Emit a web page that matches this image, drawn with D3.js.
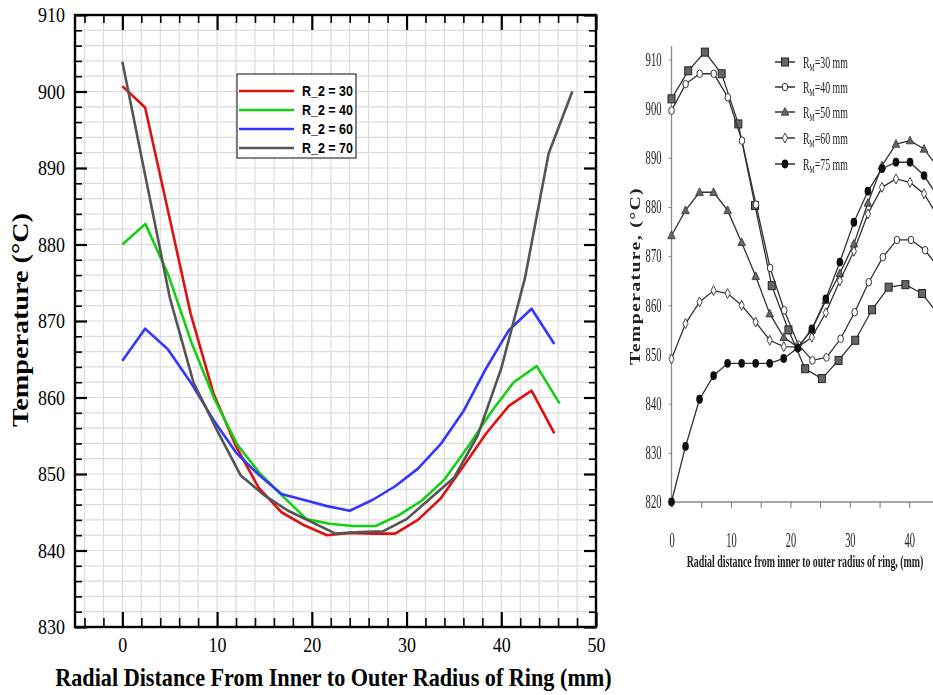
<!DOCTYPE html>
<html><head><meta charset="utf-8">
<script src="https://cdn.jsdelivr.net/npm/d3@7"></script>
<style>html,body{margin:0;padding:0;background:#fff}svg{display:block}</style>
</head><body>
<svg id="chart" width="933" height="695"></svg>
<script>
// ---------- Left panel: temperature across the ring for four R_2 values ----------
const leftNames  = ["R_2 = 30", "R_2 = 40", "R_2 = 60", "R_2 = 70"];
const leftColors = ["#e01010", "#12d012", "#3535ff", "#555555"];

const r30x = [0, 2.4, 4.8, 7.2, 9.6, 12, 14.4, 16.8, 19.2, 21.6, 24, 26.4, 28.8, 31.2, 33.6, 36, 38.4, 40.8, 43.2, 45.6];
const r30t = [900.7, 897.9, 884.5, 871, 860.6, 853.6, 848.2, 845, 843.3, 842, 842.3, 842.2, 842.2, 844, 846.8, 851, 855.3, 858.9, 860.9, 855.3];

const r40x = [0, 2.43, 4.86, 7.29, 9.72, 12.15, 14.58, 17.01, 19.44, 21.87, 24.3, 26.73, 29.16, 31.59, 34.02, 36.45, 38.88, 41.31, 43.74, 46.17];
const r40t = [880, 882.7, 876, 867.2, 859.8, 853.8, 850, 847, 844.1, 843.5, 843.2, 843.2, 844.6, 846.5, 849.3, 853.5, 858, 862, 864.1, 859.2];

const r60x = [0, 2.4, 4.8, 7.2, 9.6, 12, 14.4, 16.8, 19.2, 21.6, 24, 26.4, 28.8, 31.2, 33.6, 36, 38.4, 40.8, 43.2, 45.6];
const r60t = [864.8, 869, 866.3, 862, 857.1, 852.8, 849.9, 847.4, 846.6, 845.8, 845.2, 846.6, 848.4, 850.7, 853.9, 858.2, 863.8, 868.8, 871.6, 867];

const r70x = [0, 2.5, 5, 7.5, 10, 12.5, 15, 17.5, 20, 22.5, 25, 27.5, 30, 32.5, 35, 37.5, 40, 42.5, 45, 47.5];
const r70t = [903.9, 888.5, 873.1, 862, 855.7, 849.8, 847.2, 845.2, 843.7, 842.2, 842.4, 842.5, 844.1, 846.8, 849.5, 855, 863.8, 875.6, 891.9, 900];

const leftXTicks = [0, 10, 20, 30, 40, 50];
const leftYTicks = [830, 840, 850, 860, 870, 880, 890, 900, 910];

// ---------- Right panel: temperature across the ring for five R_M values ----------
const rightNames   = ["30 mm", "40 mm", "50 mm", "60 mm", "75 mm"];
const rightMarkers = ["square", "ocircle", "triangle", "diamond", "dot"];

const m30x = [0, 2.81, 5.62, 8.43, 11.24, 14.05, 16.86, 19.67, 22.48, 25.29, 28.1, 30.91, 33.72, 36.53, 39.34, 42.15, 44.96];
const m30t = [902, 907.7, 911.5, 907.1, 896.9, 880.3, 864, 855, 847.1, 845.1, 848.8, 852.9, 859.1, 863.7, 864.2, 862.4, 858];

const m40x = [0, 2.37, 4.74, 7.11, 9.48, 11.85, 14.22, 16.59, 18.96, 21.33, 23.7, 26.07, 28.44, 30.81, 33.18, 35.55, 37.92, 40.29, 42.66, 45.03];
const m40t = [899.6, 905, 907.1, 907.1, 902.3, 893.5, 880.5, 867.6, 859, 852, 848.8, 849.4, 853.2, 858.6, 864.7, 869.8, 873.3, 873.3, 871.2, 867.5];

const m50x = [0, 2.36, 4.72, 7.08, 9.44, 11.8, 14.16, 16.52, 18.88, 21.24, 23.6, 25.96, 28.32, 30.68, 33.04, 35.4, 37.76, 40.12, 42.48, 44.84];
const m50t = [874.2, 879.3, 883, 883, 879.3, 872.8, 865.9, 858.3, 853.5, 851.5, 855, 861, 866.5, 872.5, 880.8, 888.4, 892.8, 893.5, 891.8, 888];

const m60x = [0, 2.36, 4.72, 7.08, 9.44, 11.8, 14.16, 16.52, 18.88, 21.24, 23.6, 25.96, 28.32, 30.68, 33.04, 35.4, 37.76, 40.12, 42.48, 44.84];
const m60t = [849.1, 856.3, 860.7, 863, 862.4, 860, 856.6, 852.9, 851.6, 851.5, 853.5, 858.5, 865, 871, 878.6, 884, 885.7, 885, 882.7, 878];

const m75x = [0, 2.36, 4.72, 7.08, 9.44, 11.8, 14.16, 16.52, 18.88, 21.24, 23.6, 25.96, 28.32, 30.68, 33.04, 35.4, 37.76, 40.12, 42.48, 44.84];
const m75t = [820, 831.3, 840.9, 845.7, 848.2, 848.2, 848.2, 848.2, 849.2, 851.3, 855.2, 861.3, 868.8, 876.9, 883.2, 887.8, 889.1, 889.1, 886.4, 882];

const rightXTicks = [0, 10, 20, 30, 40];
const rightXMinor = [5, 15, 25, 35];
const rightYTicks = [820, 830, 840, 850, 860, 870, 880, 890, 900, 910];

const zip = (xs, ts) => xs.map((x, i) => ({x, t: ts[i]}));
const leftSeries  = [zip(r30x, r30t), zip(r40x, r40t), zip(r60x, r60t), zip(r70x, r70t)];
const rightSeries = [zip(m30x, m30t), zip(m40x, m40t), zip(m50x, m50t), zip(m60x, m60t), zip(m75x, m75t)];

// Narrow a text element horizontally to a given width, keeping its anchor point fixed.
function squeeze(sel, widthFn) {
  sel.each(function () {
    const target = typeof widthFn === "function" ? widthFn.call(this) : widthFn;
    const w = this.getComputedTextLength();
    if (!w) return;
    const s = target / w;
    const x = +this.getAttribute("x") || 0, y = +this.getAttribute("y") || 0;
    const prev = this.getAttribute("transform") || "";
    this.setAttribute("transform", `${prev} translate(${x},${y}) scale(${s},1) translate(${-x},${-y})`.trim());
  });
}

const svg = d3.select("#chart");
svg.append("rect").attr("width", 933).attr("height", 695).attr("fill", "#fff");

// ================= Left panel =================
const xL = d3.scaleLinear().domain([-5, 50]).range([75, 596]);
const yL = d3.scaleLinear().domain([830, 910]).range([627, 15]);
const L = svg.append("g");
const serif = "'Liberation Serif','Times New Roman',serif";

// light grid every 2 units
const gridX = d3.range(-4, 50, 2), gridY = d3.range(832, 910, 2);
L.append("g").selectAll("line").data(gridX).join("line")
  .attr("x1", d => xL(d)).attr("x2", d => xL(d)).attr("y1", yL(910)).attr("y2", yL(830))
  .attr("stroke", "#dcdcdc").attr("stroke-width", 1.2);
L.append("g").selectAll("line").data(gridY).join("line")
  .attr("y1", d => yL(d)).attr("y2", d => yL(d)).attr("x1", xL(-5)).attr("x2", xL(50))
  .attr("stroke", "#dcdcdc").attr("stroke-width", 1.2);

const minorX = gridX.filter(v => v % 10 !== 0);
const minorY = gridY.filter(v => v % 10 !== 0);

function styleAxis(g, width) {
  g.select(".domain").remove();
  g.attr("font-size", null).attr("font-family", null);
  g.selectAll(".tick line").attr("stroke", "#000").attr("stroke-width", width);
}
function styleLeftLabels(g) {
  const t = g.selectAll(".tick text")
    .attr("fill", "#000")
    .style("font-family", serif)
    .style("font-size", "21px");
  squeeze(t, function () { return 9 * this.textContent.length; });
}

// bottom
L.append("g").attr("transform", `translate(0,${yL(830)})`)
  .call(d3.axisBottom(xL).tickValues(minorX).tickSize(-9).tickFormat(""))
  .call(g => styleAxis(g, 1.6));
L.append("g").attr("transform", `translate(0,${yL(830)})`)
  .call(d3.axisBottom(xL).tickValues(leftXTicks).tickSize(-15).tickPadding(10))
  .call(g => styleAxis(g, 2.2)).call(styleLeftLabels);
// top
L.append("g").attr("transform", `translate(0,${yL(910)})`)
  .call(d3.axisTop(xL).tickValues(minorX).tickSize(-8).tickFormat(""))
  .call(g => styleAxis(g, 1.6));
L.append("g").attr("transform", `translate(0,${yL(910)})`)
  .call(d3.axisTop(xL).tickValues(leftXTicks).tickSize(-15).tickFormat(""))
  .call(g => styleAxis(g, 2.2));
// left
L.append("g").attr("transform", `translate(${xL(-5)},0)`)
  .call(d3.axisLeft(yL).tickValues(minorY).tickSize(-7).tickFormat(""))
  .call(g => styleAxis(g, 1.6));
L.append("g").attr("transform", `translate(${xL(-5)},0)`)
  .call(d3.axisLeft(yL).tickValues(leftYTicks).tickSize(-12).tickPadding(10))
  .call(g => styleAxis(g, 2.2)).call(styleLeftLabels);
// right
L.append("g").attr("transform", `translate(${xL(50)},0)`)
  .call(d3.axisRight(yL).tickValues(minorY).tickSize(-7).tickFormat(""))
  .call(g => styleAxis(g, 1.6));
L.append("g").attr("transform", `translate(${xL(50)},0)`)
  .call(d3.axisRight(yL).tickValues(leftYTicks).tickSize(-12).tickFormat(""))
  .call(g => styleAxis(g, 2.2));

// curves
const lineL = d3.line().x(d => xL(d.x)).y(d => yL(d.t));
L.append("g").selectAll("path").data(leftSeries).join("path")
  .attr("d", lineL).attr("fill", "none")
  .attr("stroke", (d, i) => leftColors[i]).attr("stroke-width", 2.6)
  .attr("stroke-linejoin", "round");

// frame
L.append("rect").attr("x", xL(-5)).attr("y", yL(910))
  .attr("width", xL(50) - xL(-5)).attr("height", yL(830) - yL(910))
  .attr("fill", "none").attr("stroke", "#000").attr("stroke-width", 2.4);

// legend
const leg = L.append("g");
leg.append("rect").attr("x", 237).attr("y", 74).attr("width", 119).attr("height", 84)
  .attr("fill", "#fff").attr("stroke", "#333").attr("stroke-width", 1.2);
leftNames.forEach((name, i) => {
  const y = 91 + i * 19;
  leg.append("line").attr("x1", 239).attr("x2", 294).attr("y1", y).attr("y2", y)
    .attr("stroke", leftColors[i]).attr("stroke-width", 2.6);
  const t = leg.append("text").attr("x", 302).attr("y", y).attr("dy", "0.36em")
    .style("font-family", "'Liberation Sans Narrow','Liberation Sans',Arial,sans-serif")
    .style("font-size", "15px").style("font-weight", "bold")
    .text(name);
  squeeze(t, 51);
});

// titles
const xtL = L.append("text").attr("x", 333.5).attr("y", 686).attr("text-anchor", "middle")
  .style("font-family", serif).style("font-size", "26px").style("font-weight", "bold")
  .text("Radial Distance From Inner to Outer Radius of Ring (mm)");
squeeze(xtL, 557);
const ytL = L.append("text").attr("transform", "translate(28,320) rotate(-90)").attr("text-anchor", "middle")
  .style("font-family", serif).style("font-size", "24px").style("font-weight", "bold")
  .text("Temperature (\u00B0C)");
squeeze(ytL, 214);

// ================= Right panel =================
const defs = svg.append("defs");
defs.append("filter").attr("id", "soft").attr("x", "-5%").attr("y", "-5%").attr("width", "110%").attr("height", "110%")
  .append("feGaussianBlur").attr("stdDeviation", 0.55);

const xR = d3.scaleLinear().domain([0, 40]).range([671.5, 909.3]);
const yR = d3.scaleLinear().domain([820, 910]).range([502, 59.5]);
const R = svg.append("g").attr("filter", "url(#soft)");

// axis lines
R.append("line").attr("x1", xR(0)).attr("x2", xR(0)).attr("y1", yR(820)).attr("y2", yR(912.7))
  .attr("stroke", "#888").attr("stroke-width", 1.3);
R.append("line").attr("x1", xR(0)).attr("x2", 933).attr("y1", yR(820)).attr("y2", yR(820))
  .attr("stroke", "#888").attr("stroke-width", 1.3);

R.append("g").attr("transform", `translate(0,${yR(820)})`)
  .call(d3.axisBottom(xR).tickValues(rightXMinor).tickSize(6).tickFormat(""))
  .call(g => { g.select(".domain").remove(); g.selectAll(".tick line").attr("stroke", "#777"); });
R.append("g").attr("transform", `translate(0,${yR(820)})`)
  .call(d3.axisBottom(xR).tickValues(rightXTicks).tickSize(6).tickPadding(24))
  .call(g => {
    g.select(".domain").remove();
    g.attr("font-size", null).attr("font-family", null);
    g.selectAll(".tick line").attr("stroke", "#777");
    const t = g.selectAll(".tick text").attr("fill", "#222").style("font-family", serif).style("font-size", "21px");
    squeeze(t, function () { return 5.2 * this.textContent.length; });
  });
R.append("g").attr("transform", `translate(${xR(0)},0)`)
  .call(d3.axisLeft(yR).tickValues(rightYTicks).tickSize(3).tickPadding(7))
  .call(g => {
    g.select(".domain").remove();
    g.attr("font-size", null).attr("font-family", null);
    g.selectAll(".tick line").attr("stroke", "#888");
    const t = g.selectAll(".tick text").attr("fill", "#222").style("font-family", serif).style("font-size", "18px");
    squeeze(t, function () { return 5.3 * this.textContent.length; });
  });

// markers
function marker(g, type, cx, cy) {
  if (type === "square") {
    g.append("rect").attr("x", cx - 3.5).attr("y", cy - 4).attr("width", 7).attr("height", 8)
      .attr("fill", "#666").attr("stroke", "#222").attr("stroke-width", 1);
  } else if (type === "ocircle") {
    g.append("ellipse").attr("cx", cx).attr("cy", cy).attr("rx", 2.8).attr("ry", 3.8)
      .attr("fill", "#fff").attr("stroke", "#333").attr("stroke-width", 1);
  } else if (type === "triangle") {
    g.append("path").attr("d", `M${cx},${cy - 4.5}L${cx + 3.8},${cy + 3.2}L${cx - 3.8},${cy + 3.2}Z`)
      .attr("fill", "#666").attr("stroke", "#333").attr("stroke-width", 0.8);
  } else if (type === "diamond") {
    g.append("path").attr("d", `M${cx},${cy - 5}L${cx + 2.6},${cy}L${cx},${cy + 5}L${cx - 2.6},${cy}Z`)
      .attr("fill", "#fff").attr("stroke", "#444").attr("stroke-width", 1);
  } else {
    g.append("ellipse").attr("cx", cx).attr("cy", cy).attr("rx", 3.3).attr("ry", 4.4)
      .attr("fill", "#111");
  }
}

const lineR = d3.line().x(d => xR(d.x)).y(d => yR(d.t));
rightSeries.forEach((s, i) => {
  const g = R.append("g");
  g.append("path").datum(s).attr("d", lineR).attr("fill", "none")
    .attr("stroke", "#333").attr("stroke-width", 1.3);
  s.forEach(d => marker(g, rightMarkers[i], xR(d.x), yR(d.t)));
});

// legend
const legY = [62, 87, 112, 138, 164];
rightNames.forEach((name, i) => {
  const y = legY[i];
  R.append("line").attr("x1", 775).attr("x2", 795).attr("y1", y).attr("y2", y)
    .attr("stroke", "#333").attr("stroke-width", 1.5);
  marker(R, rightMarkers[i], 785, y);
  const t = R.append("text").attr("x", 803).attr("y", y).attr("dy", "0.35em")
    .style("font-family", serif).style("font-size", "17px").attr("fill", "#222");
  t.append("tspan").text("R");
  t.append("tspan").attr("font-size", "10px").attr("dy", "3").text("M");
  t.append("tspan").attr("dy", "-3").text("=" + name);
  squeeze(t, 45);
});

// titles
const xtR = R.append("text").attr("x", 805).attr("y", 567).attr("text-anchor", "middle")
  .style("font-family", serif).style("font-size", "17px").style("font-weight", "bold").attr("fill", "#222")
  .text("Radial distance from inner to outer radius of ring, (mm)");
squeeze(xtR, 237);
const ytR = R.append("text").attr("transform", "translate(640,276) rotate(-90)").attr("text-anchor", "middle")
  .style("font-family", serif).style("font-size", "15px").style("font-weight", "bold").attr("fill", "#222")
  .attr("letter-spacing", "1px")
  .text("Temperature, (\u00B0C)");
squeeze(ytR, 178);
</script>
</body></html>
